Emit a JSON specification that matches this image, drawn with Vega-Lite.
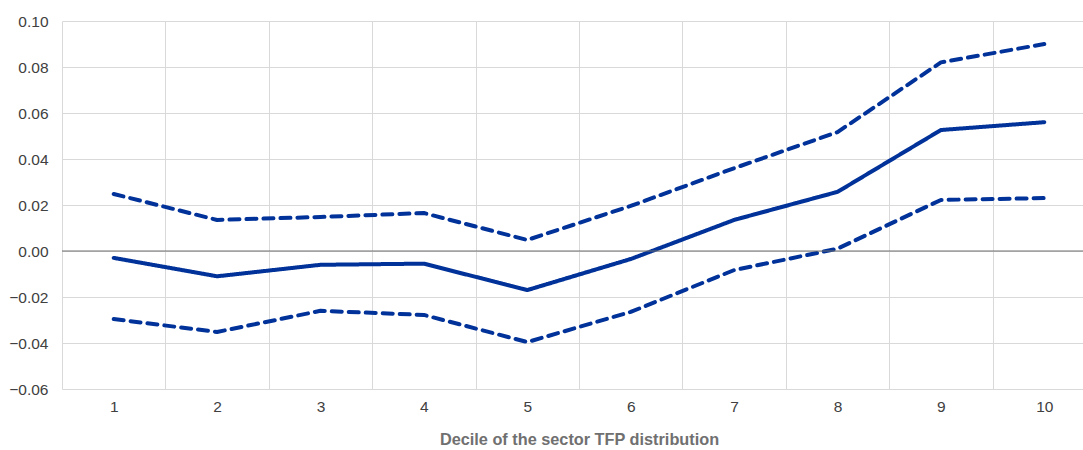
{
  "$schema": "https://vega.github.io/schema/vega-lite/v6.json",
  "autosize": {"type": "none"},
  "width": 1034,
  "height": 368,
  "padding": {"left": 62, "top": 21, "right": -13, "bottom": 61},
  "background": "white",
  "config": {
    "view": {"stroke": null},
    "axis": {"labelFont": "Liberation Sans", "titleFont": "Liberation Sans", "labelFontSize": 15.5, "labelColor": "#404040", "gridColor": "#d9d9d9", "gridWidth": 1, "ticks": false, "domain": false}
  },
  "data": {
    "values": [
      {"decile": 1, "series": "estimate", "value": -0.003},
      {"decile": 2, "series": "estimate", "value": -0.011},
      {"decile": 3, "series": "estimate", "value": -0.006},
      {"decile": 4, "series": "estimate", "value": -0.0055},
      {"decile": 5, "series": "estimate", "value": -0.017},
      {"decile": 6, "series": "estimate", "value": -0.0035},
      {"decile": 7, "series": "estimate", "value": 0.0135},
      {"decile": 8, "series": "estimate", "value": 0.0257},
      {"decile": 9, "series": "estimate", "value": 0.0526},
      {"decile": 10, "series": "estimate", "value": 0.056},
      {"decile": 1, "series": "upper", "value": 0.0248},
      {"decile": 2, "series": "upper", "value": 0.0135},
      {"decile": 3, "series": "upper", "value": 0.0148},
      {"decile": 4, "series": "upper", "value": 0.0165},
      {"decile": 5, "series": "upper", "value": 0.0048},
      {"decile": 6, "series": "upper", "value": 0.0196},
      {"decile": 7, "series": "upper", "value": 0.036},
      {"decile": 8, "series": "upper", "value": 0.0517},
      {"decile": 9, "series": "upper", "value": 0.082},
      {"decile": 10, "series": "upper", "value": 0.09},
      {"decile": 1, "series": "lower", "value": -0.0296},
      {"decile": 2, "series": "lower", "value": -0.0352},
      {"decile": 3, "series": "lower", "value": -0.026},
      {"decile": 4, "series": "lower", "value": -0.0278},
      {"decile": 5, "series": "lower", "value": -0.0396},
      {"decile": 6, "series": "lower", "value": -0.0265},
      {"decile": 7, "series": "lower", "value": -0.0083},
      {"decile": 8, "series": "lower", "value": 0.001},
      {"decile": 9, "series": "lower", "value": 0.0222},
      {"decile": 10, "series": "lower", "value": 0.023}
    ]
  },
  "layer": [
    {
      "mark": {"type": "line", "color": "#003299", "strokeWidth": 4, "strokeCap": "round", "strokeJoin": "round"},
      "encoding": {
        "x": {
          "field": "decile", "type": "ordinal",
          "scale": {"type": "band", "paddingInner": 0, "paddingOuter": 0},
          "axis": {"title": "Decile of the sector TFP distribution", "titleFontSize": 16.3, "titleFontWeight": "bold", "titleColor": "#707070", "titlePadding": 17, "labelAngle": 0, "labelPadding": 10, "grid": true, "tickBand": "extent"}
        },
        "y": {
          "field": "value", "type": "quantitative",
          "scale": {"domain": [-0.06, 0.1], "nice": false, "zero": false},
          "axis": {"title": null, "format": ".2f", "values": [-0.06, -0.04, -0.02, 0, 0.02, 0.04, 0.06, 0.08, 0.1], "labelPadding": 14, "grid": true}
        },
        "detail": {"field": "series"},
        "strokeDash": {
          "field": "series", "type": "nominal",
          "scale": {"domain": ["estimate", "upper", "lower"], "range": [[1, 0], [10, 7], [10, 7]]},
          "legend": null
        }
      }
    },
    {
      "data": {"values": [{"zero": 0}]},
      "mark": {"type": "rule", "color": "#6e6e6e", "strokeWidth": 1},
      "encoding": {"y": {"field": "zero", "type": "quantitative"}}
    }
  ]
}
